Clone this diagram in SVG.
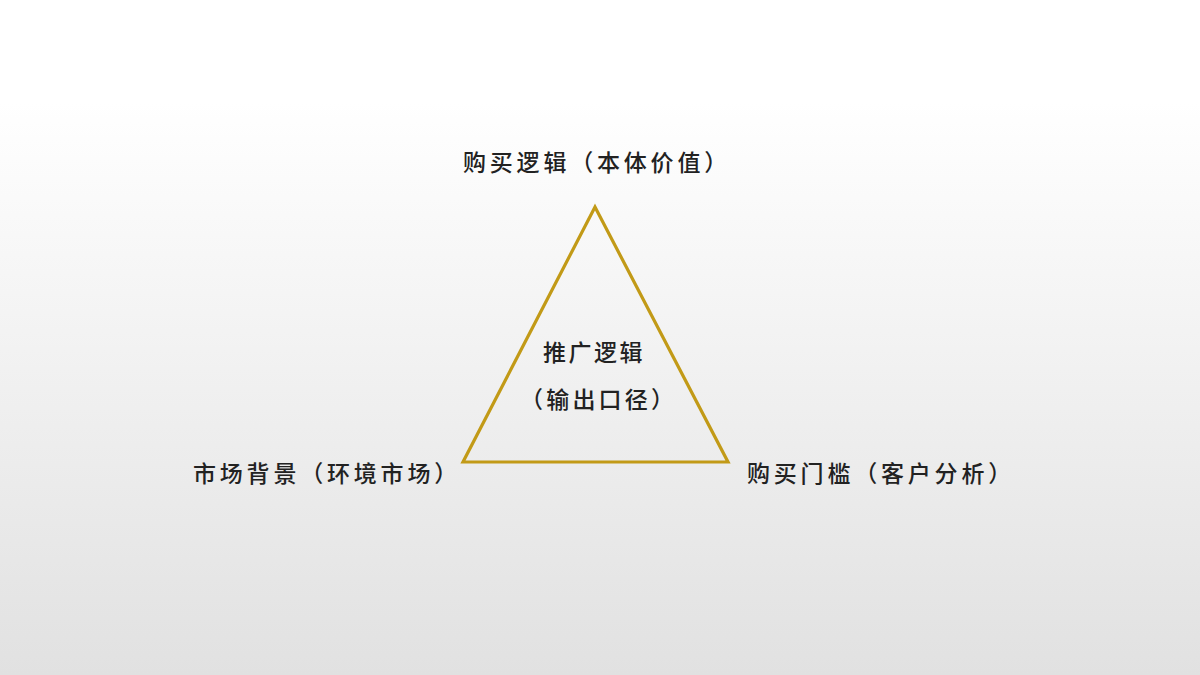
<svg xmlns="http://www.w3.org/2000/svg" width="1200" height="675" viewBox="0 0 1200 675">
  <defs>
    <linearGradient id="bg" x1="0" y1="0" x2="0" y2="1">
      <stop offset="0" stop-color="#FFFFFF"/>
      <stop offset="0.15" stop-color="#FFFFFF"/>
      <stop offset="1" stop-color="#E1E1E1"/>
    </linearGradient>
    <style>
      .t { font-family: "Noto Sans CJK SC", "Noto Sans", sans-serif; font-size: 23px; font-weight: 500; fill: #222222; letter-spacing: 3.8px; }
      .m { letter-spacing: 2.5px; }
      .tri { fill: none; stroke: #C29A17; stroke-width: 3.2; stroke-linejoin: miter; }
    </style>
  </defs>
  <rect x="0" y="0" width="1200" height="675" fill="url(#bg)"/>
  <g id="connectors">
    <polygon class="tri" points="595,207 463,462 728,462"/>
  </g>
  <g id="node-top">
    <text class="t" x="463" y="171">购买逻辑（本体价值）</text>
  </g>
  <g id="node-left">
    <text class="t" x="193" y="482">市场背景（环境市场）</text>
  </g>
  <g id="node-right">
    <text class="t" x="747" y="482">购买门槛（客户分析）</text>
  </g>
  <g id="node-center">
    <text class="t m" x="543" y="361">推广逻辑</text>
    <text class="t m" x="520" y="408" style="letter-spacing:3.2px">（输出口径）</text>
  </g>
</svg>
